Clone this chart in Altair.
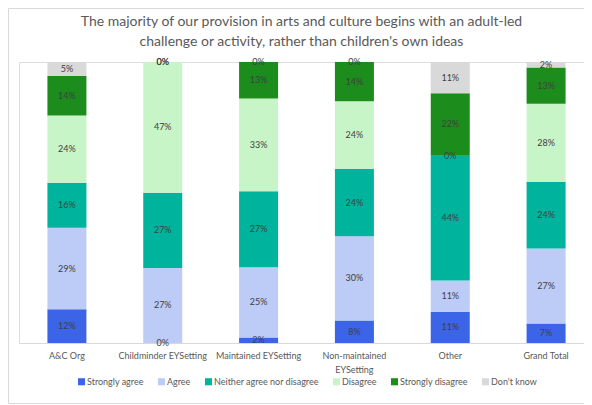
import altair as alt
import pandas as pd

categories = ["A&C Org", "Childminder EYSetting", "Maintained EYSetting",
              "Non-maintained EYSetting", "Other", "Grand Total"]
responses = ["Strongly agree", "Agree", "Neither agree nor disagree",
             "Disagree", "Strongly disagree", "Don't know"]
strongly_agree = [12, 0, 2, 8, 11, 7]
agree = [29, 27, 25, 30, 11, 27]
neither = [16, 27, 27, 24, 44, 24]
disagree = [24, 47, 33, 24, 0, 28]
strongly_disagree = [14, 0, 13, 14, 22, 13]
dont_know = [5, 0, 0, 0, 11, 2]
colors = ["#3C64E6", "#BDCBF7", "#00B39C", "#C8F5C8", "#1C8C1C", "#D9D9D9"]

series = [strongly_agree, agree, neither, disagree, strongly_disagree, dont_know]
rows = []
for ri, (resp, vals) in enumerate(zip(responses, series)):
    for ci, cat in enumerate(categories):
        rows.append({"cat": cat, "resp": resp, "order": ri, "value": vals[ci],
                     "label": f"{vals[ci]}%"})
df = pd.DataFrame(rows)

FONT = "Lato"
GREY = "#595959"
FRAME = "#D9D9D9"

base = alt.Chart(df).transform_stack(
    stack="value", groupby=["cat"], sort=[alt.SortField("order", order="ascending")],
    as_=["y0", "y1"], offset="normalize"
).transform_calculate(mid="(datum.y0 + datum.y1) / 2")

xenc = alt.X("cat:N", sort=categories, title=None,
             scale=alt.Scale(range=[0, 575], paddingInner=0.593, paddingOuter=0.2965),
             axis=alt.Axis(labelAngle=0, ticks=False, domainColor="#D9D9D9",
                           labelColor=GREY, labelFontSize=9, labelFont=FONT,
                           labelPadding=8, labelLineHeight=14, labelOverlap=False,
                           labelExpr="datum.label == 'Non-maintained EYSetting' ? ['Non-maintained', 'EYSetting'] : datum.label"))
yscale = alt.Scale(domain=[0, 1])

bars = base.mark_bar().encode(
    x=xenc,
    y=alt.Y("y0:Q", scale=yscale, axis=None),
    y2="y1:Q",
    color=alt.Color("resp:N", sort=responses,
                    scale=alt.Scale(domain=responses, range=colors),
                    legend=alt.Legend(title=None, orient="none", direction="horizontal",
                                      legendX=58, legendY=315, symbolType="square",
                                      symbolSize=50, symbolStrokeWidth=0,
                                      labelFontSize=9, labelFont=FONT, labelColor=GREY,
                                      labelOffset=1, columnPadding=13)),
)

labels = base.mark_text(fontSize=9, font=FONT, color="#404040", baseline="middle").encode(
    x=alt.X("cat:N", sort=categories),
    y=alt.Y("mid:Q", scale=yscale),
    text="label:N",
)

one = pd.DataFrame({"a": [0]})
frame_top = alt.Chart(one).mark_rule(color=FRAME, strokeWidth=1).encode(
    x=alt.value(-10.5), x2=alt.value(620), y=alt.value(-53.5))
frame_bottom = alt.Chart(one).mark_rule(color=FRAME, strokeWidth=1).encode(
    x=alt.value(-10.5), x2=alt.value(620), y=alt.value(341.5))
frame_left = alt.Chart(one).mark_rule(color=FRAME, strokeWidth=1).encode(
    x=alt.value(-10.5), y=alt.value(-53.5), y2=alt.value(341.5))

chart = alt.layer(frame_top, frame_bottom, frame_left, bars, labels).properties(
    width=565, height=281,
    padding={"left": 11, "top": 54, "right": 0, "bottom": 62},
    autosize=alt.AutoSizeParams(type="none"),
    title=alt.Title(
        ["The majority of our provision in arts and culture begins with an adult-led",
         "challenge or activity, rather than children's own ideas"],
        fontSize=14, font=FONT, color=GREY, fontWeight="normal",
        anchor="middle", offset=-41, lineHeight=20),
).configure_view(stroke=None).configure(background="white")

chart.save("out.html", embed_options={"renderer": "svg", "actions": False})
